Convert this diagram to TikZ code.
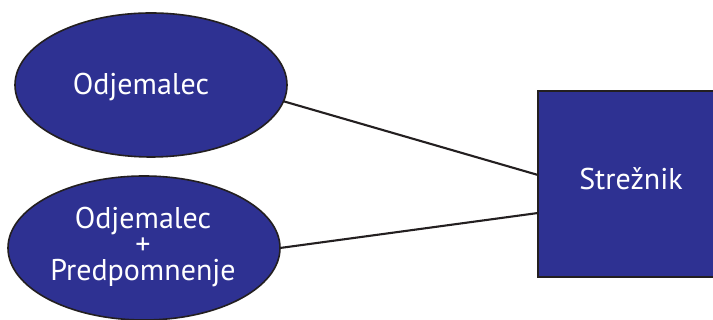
\documentclass[tikz,border=0pt]{standalone}
\usepackage{fontspec}
\setmainfont{PT Sans}
\usetikzlibrary{shapes.geometric,calc}
\definecolor{nodeblue}{HTML}{2E3192}
\definecolor{inkblack}{HTML}{231F20}
\begin{document}
\begin{tikzpicture}[x=1pt,y=1pt,
  client/.style={ellipse,draw=inkblack,fill=nodeblue,line width=1.6pt,
    minimum width=272pt,minimum height=144pt,inner sep=0pt,outer sep=0pt},
  serverbox/.style={rectangle,draw=inkblack,fill=nodeblue,line width=1.6pt,
    minimum width=188pt,minimum height=186pt,inner sep=0pt,outer sep=0pt},
  lbl/.style={text=white,font=\fontsize{30}{26}\selectfont,align=center,inner sep=0pt},
  link/.style={draw=inkblack,line width=2.1pt}]
\useasboundingbox[fill=white] (0,0) rectangle (713,320);
% clients and server
\node[client] (c1) at (151,235) {};
\node[client] (c2) at (144,72) {};
\node[serverbox] (srv) at (632,136) {};
% labels
\node[lbl,anchor=base] (t1) at (141,225) {Odjemalec};
\node[lbl] (t2) at (143,73) {Odjemalec\\+\\Predpomnenje};
\node[lbl,anchor=base] (t3) at (631,130) {Strežnik};
% connections
\draw[link] (c1.-7.8) -- ($(srv.west)+(0,9)$);
\draw[link] (c2.east) -- ($(srv.west)+(0,-29)$);
\end{tikzpicture}
\end{document}
